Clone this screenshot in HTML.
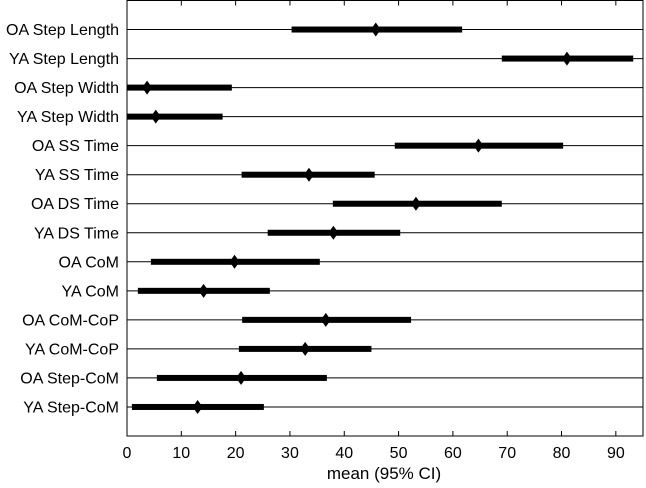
<!DOCTYPE html>
<html><head><meta charset="utf-8"><style>
html,body{margin:0;padding:0;background:#fff;}
svg{display:block;font-family:"Liberation Sans",Arial,sans-serif;}
</style></head><body>
<svg id="chart" width="646" height="488" viewBox="0 0 646 488" xmlns="http://www.w3.org/2000/svg"></svg>
<script>
const categories=["OA Step Length","YA Step Length","OA Step Width","YA Step Width","OA SS Time","YA SS Time","OA DS Time","YA DS Time","OA CoM","YA CoM","OA CoM-CoP","YA CoM-CoP","OA Step-CoM","YA Step-CoM"];
const means=[45.8,81,3.7,5.3,64.7,33.5,53.2,38,19.8,14.1,36.6,32.8,21,13];
const lower=[30.3,69,0,0,49.3,21.1,37.9,25.9,4.4,2,21.2,20.6,5.5,0.9];
const upper=[61.7,93.2,19.3,17.6,80.3,45.6,69,50.3,35.5,26.3,52.3,45,36.8,25.2];
const xTicks=[0,10,20,30,40,50,60,70,80,90];
const xMax=95;
const L=127,R=643,T=0.5,B=436;
const x=v=>L+(v/xMax)*(R-L);
const y=i=>T+(i+1)*(B-T)/15;
const svg=document.getElementById('chart');
const NS='http://www.w3.org/2000/svg';
function mk(tag,attrs,parent){const e=document.createElementNS(NS,tag);for(const k in attrs)e.setAttribute(k,attrs[k]);(parent||svg).appendChild(e);return e;}
categories.forEach((c,i)=>{
  const g=mk('line',{x1:L,x2:R,y1:y(i),y2:y(i),stroke:'#000','stroke-width':1});
  
  
  const t=mk('text',{x:119,y:y(i)+5.5,'text-anchor':'end','font-size':16});
  t.textContent=c;
  
  
  const b=mk('rect',{x:x(lower[i]),y:y(i)-3,width:x(upper[i])-x(lower[i]),height:6,fill:'#000'});
  
  
  const cx=x(means[i]),cy=y(i);
  const d=mk('polygon',{points:`${cx},${cy-7} ${cx+5},${cy} ${cx},${cy+7} ${cx-5},${cy}`,fill:'#000'});
  
  
});
const frame=mk('rect',{x:L,y:T,width:R-L,height:B-T,fill:'none',stroke:'#000','stroke-width':1});


xTicks.forEach(v=>{
  const a=mk('line',{x1:x(v),x2:x(v),y1:B,y2:B-5,stroke:'#000'});
  
  
  const b2=mk('line',{x1:x(v),x2:x(v),y1:T,y2:T+5,stroke:'#000'});
  
  
  const t=mk('text',{x:x(v),y:458,'text-anchor':'middle','font-size':16});
  t.textContent=v;
  
  
});
const xl=mk('text',{x:384,y:479,'text-anchor':'middle','font-size':17});
xl.textContent='mean (95% CI)';


</script>
</body></html>
